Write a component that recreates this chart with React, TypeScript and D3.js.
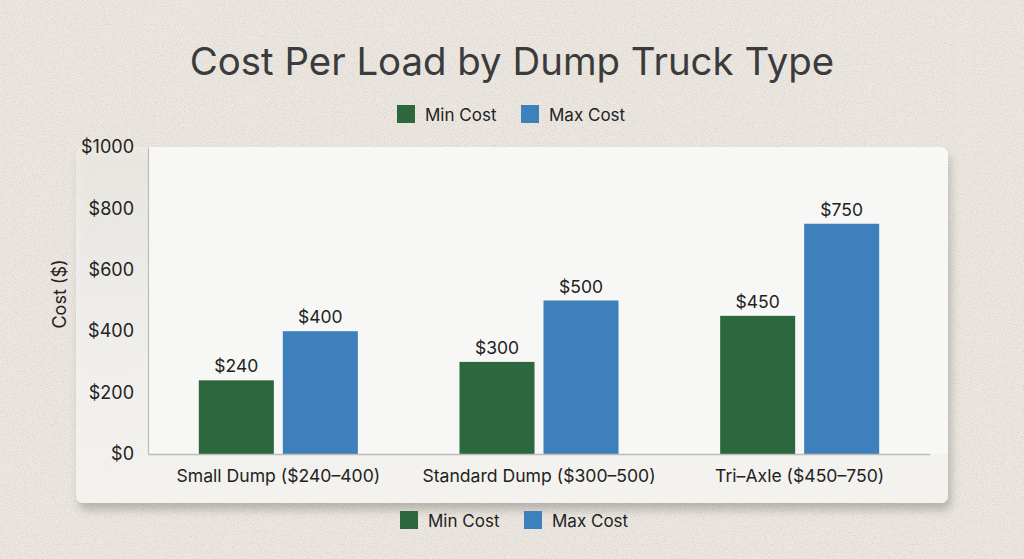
import React, { useEffect, useRef } from 'react';
import * as d3 from 'd3';

const categories = ['Small Dump ($240–400)', 'Standard Dump ($300–500)', 'Tri–Axle ($450–750)'];
const seriesKeys = ['Min Cost', 'Max Cost'];
const minCost = [240, 300, 450];
const maxCost = [400, 500, 750];
const yTicks = [0, 200, 400, 600, 800, 1000];
const seriesColors = ['#2d673d', '#3d80bb'];

const FONT = 'Inter, "Open Sans", sans-serif';

export default function App() {
  const ref = useRef<SVGSVGElement>(null);

  useEffect(() => {
    const width = 1024;
    const height = 559;
    const plot = { left: 148, right: 930, top: 147, bottom: 454 };

    const svg = d3.select(ref.current);
    svg.selectAll('*').remove();

    const defs = svg.append('defs');
    const noise = defs.append('filter').attr('id', 'grain');
    noise
      .append('feTurbulence')
      .attr('type', 'fractalNoise')
      .attr('baseFrequency', 0.9)
      .attr('numOctaves', 2)
      .attr('seed', 3);
    noise
      .append('feColorMatrix')
      .attr('values', '0 0 0 0 0.45  0 0 0 0 0.42  0 0 0 0 0.38  0 0 0 -2.2 1.25');

    const shadow = defs.append('filter').attr('id', 'shadow').attr('x', '-10%').attr('y', '-10%').attr('width', '120%').attr('height', '130%');
    shadow
      .append('feDropShadow')
      .attr('dx', 3)
      .attr('dy', 7)
      .attr('stdDeviation', 5)
      .attr('flood-color', '#000')
      .attr('flood-opacity', 0.22);

    const cardGrad = defs.append('linearGradient').attr('id', 'cardGrad').attr('x1', 0).attr('y1', 0).attr('x2', 0.3).attr('y2', 1);
    cardGrad.append('stop').attr('offset', '0%').attr('stop-color', '#f2f0ec').attr('stop-opacity', 0.55);
    cardGrad.append('stop').attr('offset', '60%').attr('stop-color', '#f2f1ee').attr('stop-opacity', 0.95);
    cardGrad.append('stop').attr('offset', '100%').attr('stop-color', '#f3f2ef').attr('stop-opacity', 1);

    // background
    svg.append('rect').attr('width', width).attr('height', height).attr('fill', '#ece8e1');
    svg.append('rect').attr('width', width).attr('height', height).attr('filter', 'url(#grain)').attr('opacity', 0.35);

    // card
    svg
      .append('rect')
      .attr('x', 76)
      .attr('y', 147)
      .attr('width', 872)
      .attr('height', 356)
      .attr('rx', 7)
      .attr('fill', 'url(#cardGrad)')
      .attr('filter', 'url(#shadow)');

    svg
      .append('path')
      .attr('d', `M${plot.left},${plot.top} H941 a7,7 0 0 1 7,7 V${plot.bottom} H${plot.left} Z`)
      .attr('fill', '#f7f7f5');

    const x0 = d3.scaleBand().domain(categories).range([plot.left, plot.right]).paddingInner(0).paddingOuter(0);
    const x1 = d3.scaleBand().domain(seriesKeys).range([0, x0.bandwidth()]).paddingInner(0.107).paddingOuter(0.605);
    const y = d3.scaleLinear().domain([0, 1000]).range([plot.bottom, plot.top]);
    const color = d3.scaleOrdinal<string, string>().domain(seriesKeys).range(seriesColors);

    const rows = categories.map((c, i) => ({ category: c, values: [minCost[i], maxCost[i]] }));

    const groups = svg
      .selectAll('g.group')
      .data(rows)
      .enter()
      .append('g')
      .attr('class', 'group')
      .attr('transform', (d) => `translate(${x0(d.category)}, 0)`);

    const bars = groups
      .selectAll('g.bar')
      .data((d) => d.values.map((v, i) => ({ key: seriesKeys[i], value: v })))
      .enter()
      .append('g')
      .attr('class', 'bar');

    bars
      .append('rect')
      .attr('x', (d) => x1(d.key) as number)
      .attr('y', (d) => y(d.value))
      .attr('width', x1.bandwidth())
      .attr('height', (d) => y(0) - y(d.value))
      .attr('fill', (d) => color(d.key));

    bars
      .append('text')
      .attr('x', (d) => (x1(d.key) as number) + x1.bandwidth() / 2)
      .attr('y', (d) => y(d.value) - 8)
      .attr('text-anchor', 'middle')
      .attr('font-family', FONT)
      .attr('font-size', 17.5)
      .attr('fill', '#222')
      .text((d) => `$${d.value}`);

    // axes
    const yAxis = d3
      .axisLeft(y)
      .tickValues(yTicks)
      .tickSize(0)
      .tickPadding(14)
      .tickFormat((d) => `$${d}`);
    const gy = svg.append('g').attr('transform', `translate(${plot.left}, 0)`).call(yAxis);
    gy.select('.domain').attr('stroke', '#bdbdbb').attr('stroke-width', 1.2);
    gy.selectAll('text').attr('font-family', FONT).attr('font-size', 18).attr('fill', '#222');

    const xAxis = d3.axisBottom(x0).tickSize(0).tickPadding(16);
    const gx = svg.append('g').attr('transform', `translate(0, ${plot.bottom})`).call(xAxis);
    gx.select('.domain').attr('stroke', '#bdbdbb').attr('stroke-width', 1.5);
    gx.selectAll('text').attr('font-family', FONT).attr('font-size', 17.6).attr('fill', '#222');

    svg
      .append('text')
      .attr('transform', `translate(66, 294) rotate(-90)`)
      .attr('text-anchor', 'middle')
      .attr('font-family', FONT)
      .attr('font-size', 18)
      .attr('fill', '#222')
      .text('Cost ($)');

    // title
    svg
      .append('text')
      .attr('x', width / 2)
      .attr('y', 75)
      .attr('text-anchor', 'middle')
      .attr('font-family', FONT)
      .attr('font-size', 38.4)
      .attr('fill', '#3b3b3b')
      .text('Cost Per Load by Dump Truck Type');

    // legends
    const legendAt = (startX: number, topY: number) => {
      const lg = svg
        .append('g')
        .attr('transform', `translate(${startX}, ${topY})`)
        .selectAll('g')
        .data(seriesKeys)
        .enter()
        .append('g')
        .attr('transform', (d, i) => `translate(${i * 124}, 0)`);
      lg.append('rect').attr('width', 18).attr('height', 18).attr('fill', (d) => color(d));
      lg.append('text')
        .attr('x', 28)
        .attr('y', 15.5)
        .attr('font-family', FONT)
        .attr('font-size', 17)
        .attr('fill', '#222')
        .text((d) => d);
    };
    legendAt(397, 105);
    legendAt(400, 511);
  }, []);

  return (
    <svg
      ref={ref}
      width={1024}
      height={559}
      style={{ position: 'fixed', left: 0, top: 0, display: 'block' }}
    />
  );
}
